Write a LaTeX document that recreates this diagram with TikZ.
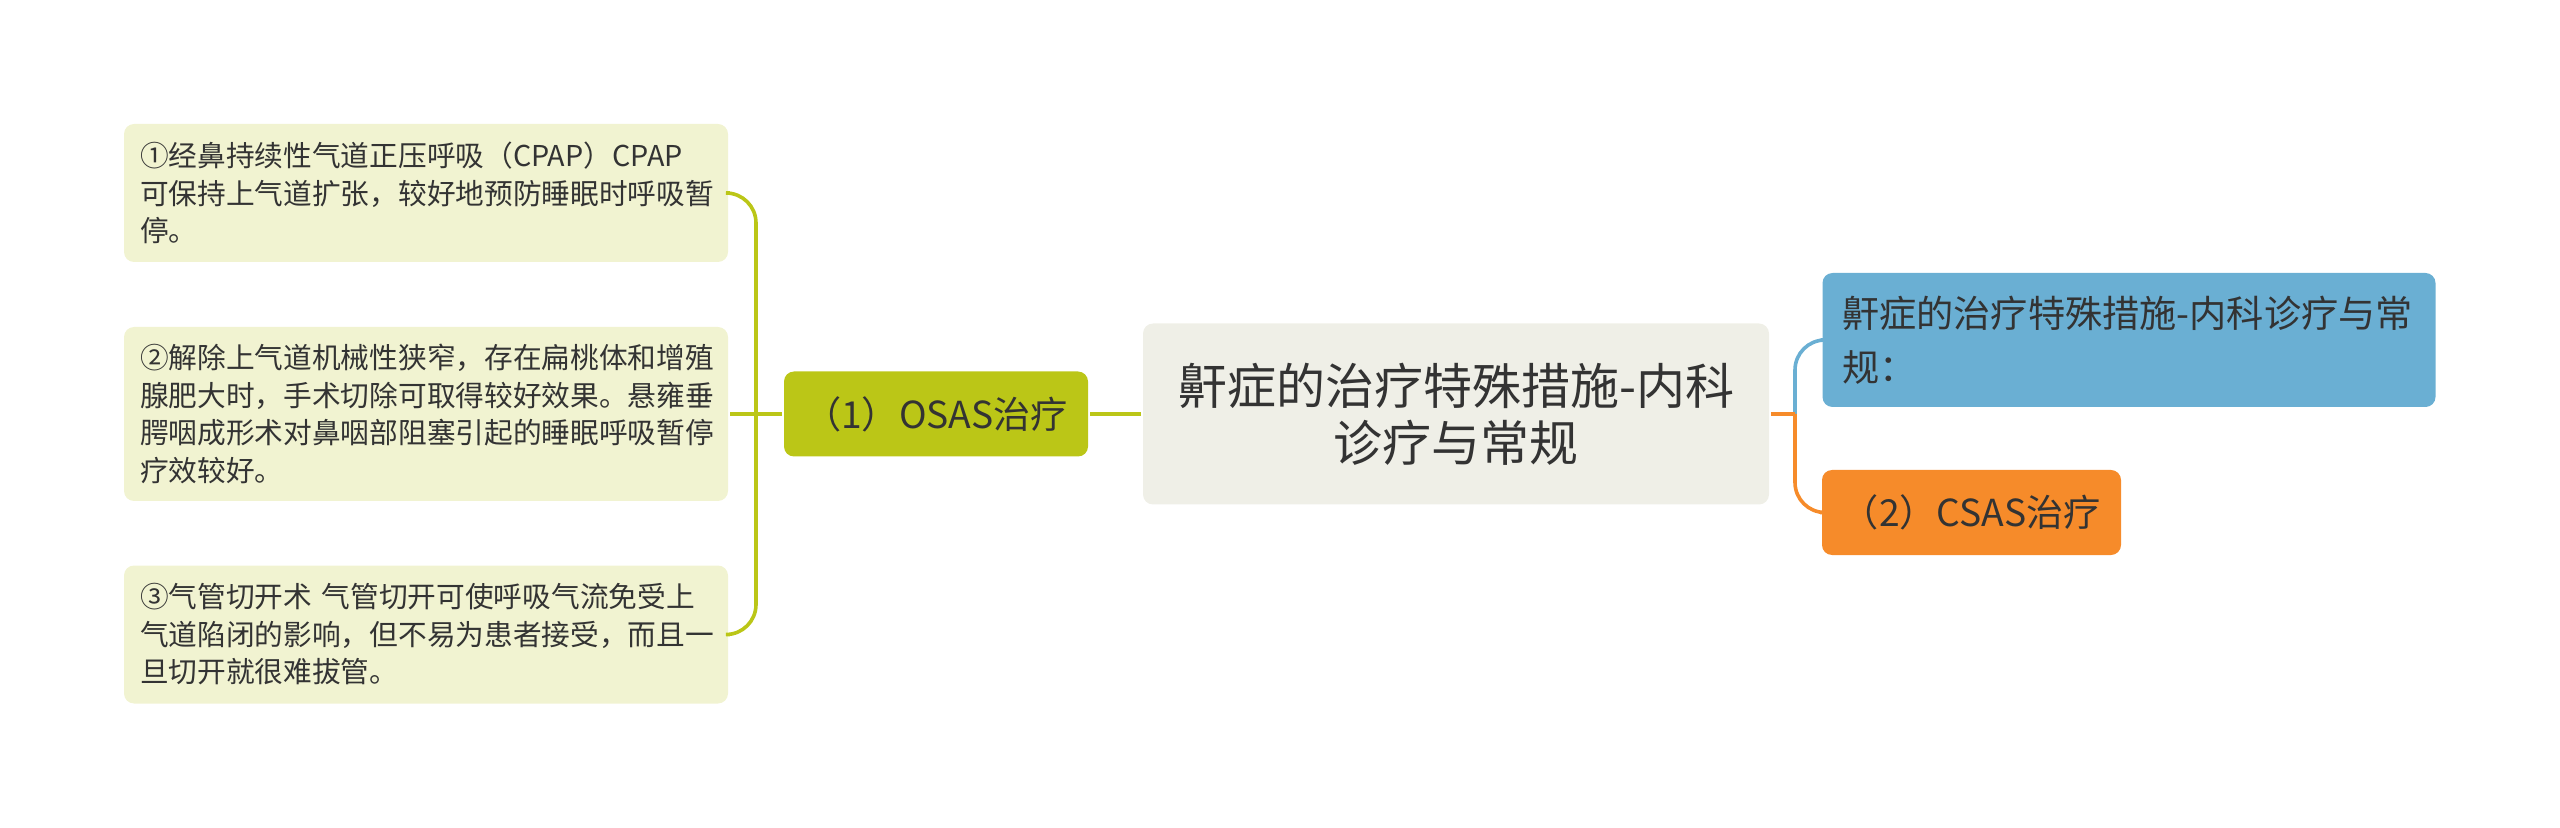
\documentclass[tikz,border=0pt]{standalone}
\usepackage{fontspec}
\setmainfont{Noto Sans CJK SC}
\usepackage{tikz}
\usetikzlibrary{positioning}
\definecolor{textgray}{HTML}{333333}
\definecolor{leaffill}{HTML}{F1F3D1}
\definecolor{olive}{HTML}{BBC617}
\definecolor{rootfill}{HTML}{EFEFE7}
\definecolor{skyblue}{HTML}{6AAFD3}
\definecolor{skyline}{HTML}{6AAFD3}
\definecolor{tangerine}{HTML}{F68B2A}

\begin{document}
\begin{tikzpicture}[x=0.5pt,y=-0.5pt,line width=1.8pt]
  \tikzstyle{every node}=[text=textgray,rounded corners=5pt,inner sep=0pt]
  \tikzstyle{leaf}=[fill=leaffill,text width=286pt,inner xsep=8pt,align=left,
                    font=\fontsize{14.35pt}{18.75pt}\selectfont]
  \tikzstyle{branch}=[font=\fontsize{18.6pt}{27pt}\selectfont]
  \useasboundingbox (0,0) rectangle (2560,828);

  \node[leaf,minimum height=69pt] (cpap) at (426,193)
       {①经鼻持续性气道正压呼吸（CPAP）CPAP\\可保持上气道扩张，较好地预防睡眠时呼吸暂\\停。};
  \node[leaf,minimum height=87pt] (surgery) at (426,414)
       {②解除上气道机械性狭窄，存在扁桃体和增殖\\腺肥大时，手术切除可取得较好效果。悬雍垂\\腭咽成形术对鼻咽部阻塞引起的睡眠呼吸暂停\\疗效较好。};
  \node[leaf,minimum height=69pt] (trach) at (426,634.5)
       {③气管切开术 气管切开可使呼吸气流免受上\\气道陷闭的影响，但不易为患者接受，而且一\\旦切开就很难拔管。};
  \node[branch,fill=olive,minimum width=152pt,minimum height=42.5pt] (osas) at (936,414)
       {（1）OSAS治疗};
  \node[fill=rootfill,minimum width=313pt,minimum height=90.5pt,align=center,
        font=\fontsize{24.5pt}{28.5pt}\selectfont] (root) at (1456,414)
       {鼾症的治疗特殊措施-内科\\诊疗与常规};
  \node[branch,fill=skyblue,minimum width=306.5pt,minimum height=67pt,
        text width=287pt,inner xsep=9.75pt,align=left] (intro) at (2129,340)
       {鼾症的治疗特殊措施-内科诊疗与常\\规：};
  \node[branch,fill=tangerine,minimum width=149.5pt,minimum height=42.5pt] (csas) at (1971.5,512.5)
       {（2）CSAS治疗};

  \coordinate (lspine) at (756,414);
  \coordinate (rspine) at (1795,414);

  \draw[olive] (root.west) -- (osas.east);
  \draw[olive] (osas.west) -- (surgery.east);
  \draw[olive,rounded corners=15] (cpap.east) -| (lspine) |- (trach.east);
  \draw[skyline,rounded corners=15] (rspine) |- (intro.west);
  \draw[tangerine] (root.east) -- (rspine);
  \draw[tangerine,rounded corners=15] (rspine) |- (csas.west);
\end{tikzpicture}
\end{document}
